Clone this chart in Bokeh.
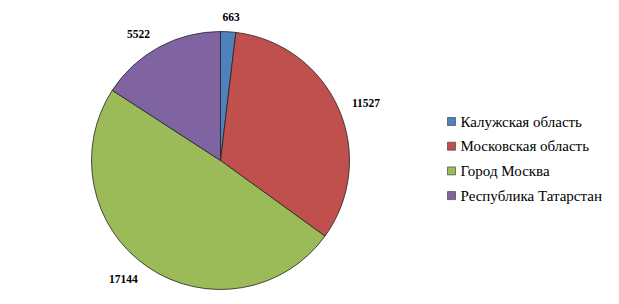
import numpy as np
from bokeh.plotting import figure
from bokeh.models import Range1d, ColumnDataSource
from bokeh.core.properties import value
from bokeh.embed import file_html
from bokeh.resources import INLINE

categories = ["Калужская область", "Московская область", "Город Москва", "Республика Татарстан"]
values = [663, 11527, 17144, 5522]
colors = ["#4F81BD", "#C0504D", "#9BBB59", "#8064A2"]

SERIF = value("Liberation Serif")

W, H = 619, 304
p = figure(width=W, height=H, output_backend="svg", toolbar_location=None,
           x_range=Range1d(0, W), y_range=Range1d(0, H), min_border=0)
p.axis.visible = False
p.grid.visible = False
p.outline_line_color = None

cx, cy, R = 220, H - 160, 129
vals = np.array(values, dtype=float)
frac = vals / vals.sum()
cum = np.concatenate([[0], np.cumsum(frac)])
start = np.pi / 2 - cum[:-1] * 2 * np.pi
end = np.pi / 2 - cum[1:] * 2 * np.pi
mid = (start + end) / 2

src = ColumnDataSource(dict(start=start, end=end, color=colors))
p.wedge(x=cx, y=cy, radius=R, start_angle="start", end_angle="end", direction="clock",
        fill_color="color", line_color="#222222", line_width=0.8, source=src)

# label box placed just outside the slice edge (like Excel "outside end")
labels = [str(v) for v in values]
gap, char_w, half_h = 9, 6.0, 6.0
half_w = np.array([len(t) * char_w / 2 for t in labels])
ax = cx + (R + gap) * np.cos(mid)
ay = cy + (R + gap) * np.sin(mid)
lx = ax + (half_w + 4) * np.clip(3 * np.cos(mid), -1, 1)
ly = ay + half_h * np.sin(mid)
lsrc = ColumnDataSource(dict(x=lx, y=ly, t=labels))
p.text(x="x", y="y", text="t", text_align="center", text_baseline="middle",
       text_font=SERIF, text_font_style="bold", text_font_size="11.5px",
       text_color="#000000", source=lsrc)

# legend
leg_x, leg_y0, gap_l = 451, H - 121, 24.7
ys = [leg_y0 - i * gap_l for i in range(len(categories))]
p.scatter(x=[leg_x] * len(ys), y=ys, marker="square", size=8, fill_color=colors,
          line_color="#333333", line_width=0.6)
p.text(x=[leg_x + 9] * len(ys), y=ys, text=categories, text_baseline="middle",
       text_font=SERIF, text_font_size="15px", text_color="#000000")

open("out.html", "w").write(file_html(p, INLINE))
